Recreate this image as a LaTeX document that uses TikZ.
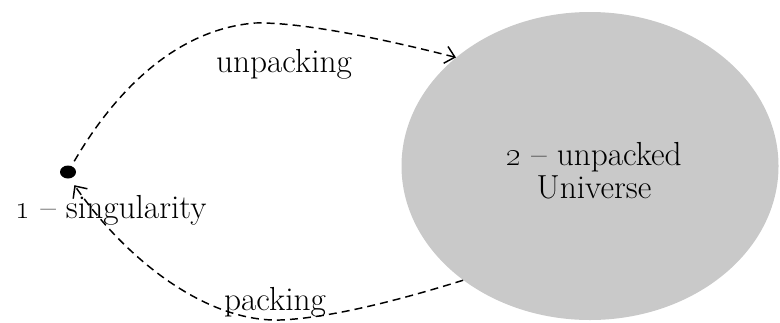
\documentclass[tikz,border=0pt]{standalone}
\usetikzlibrary{shapes.geometric,arrows.meta}
\begin{document}
\begin{tikzpicture}[x=0.75pt,y=-0.75pt,
  lbl/.style={font=\fontsize{25}{24.75}\selectfont, inner sep=0pt},
  conn/.style={dash pattern=on 6pt off 3.8pt, line width=1.1pt,
    -{Straight Barb[length=7pt,width=13pt,line width=1.1pt]}},
]
\useasboundingbox (0,0) rectangle (780,322);
\node[ellipse, fill=black!21, minimum width=282.75pt, minimum height=231pt, inner sep=0pt] (u) at (590,166) {};
\node[ellipse, fill=black, minimum width=12pt, minimum height=9.75pt, inner sep=0pt] (s) at (68,172) {};
\node[lbl, anchor=base] (t1) at (111,218) {\oldstylenums{1} -- singularity};
\node[lbl, anchor=base] (t2) at (284,72) {unpacking};
\node[lbl, anchor=base] (t3) at (275,310) {packing};
\node[lbl, anchor=base, align=center] (t4) at (594,198) {\oldstylenums{2} -- unpacked\\Universe};
\draw[conn, shorten <=4pt] (s.60) .. controls (110,100) and (170,30) .. (255,23) .. controls (300,22) and (380,38) .. (u.141);
\draw[conn, shorten >=6pt] (u.222) .. controls (400,300) and (330,318) .. (280,320) .. controls (210,322) and (130,265) .. (s.-75);
\end{tikzpicture}
\end{document}
